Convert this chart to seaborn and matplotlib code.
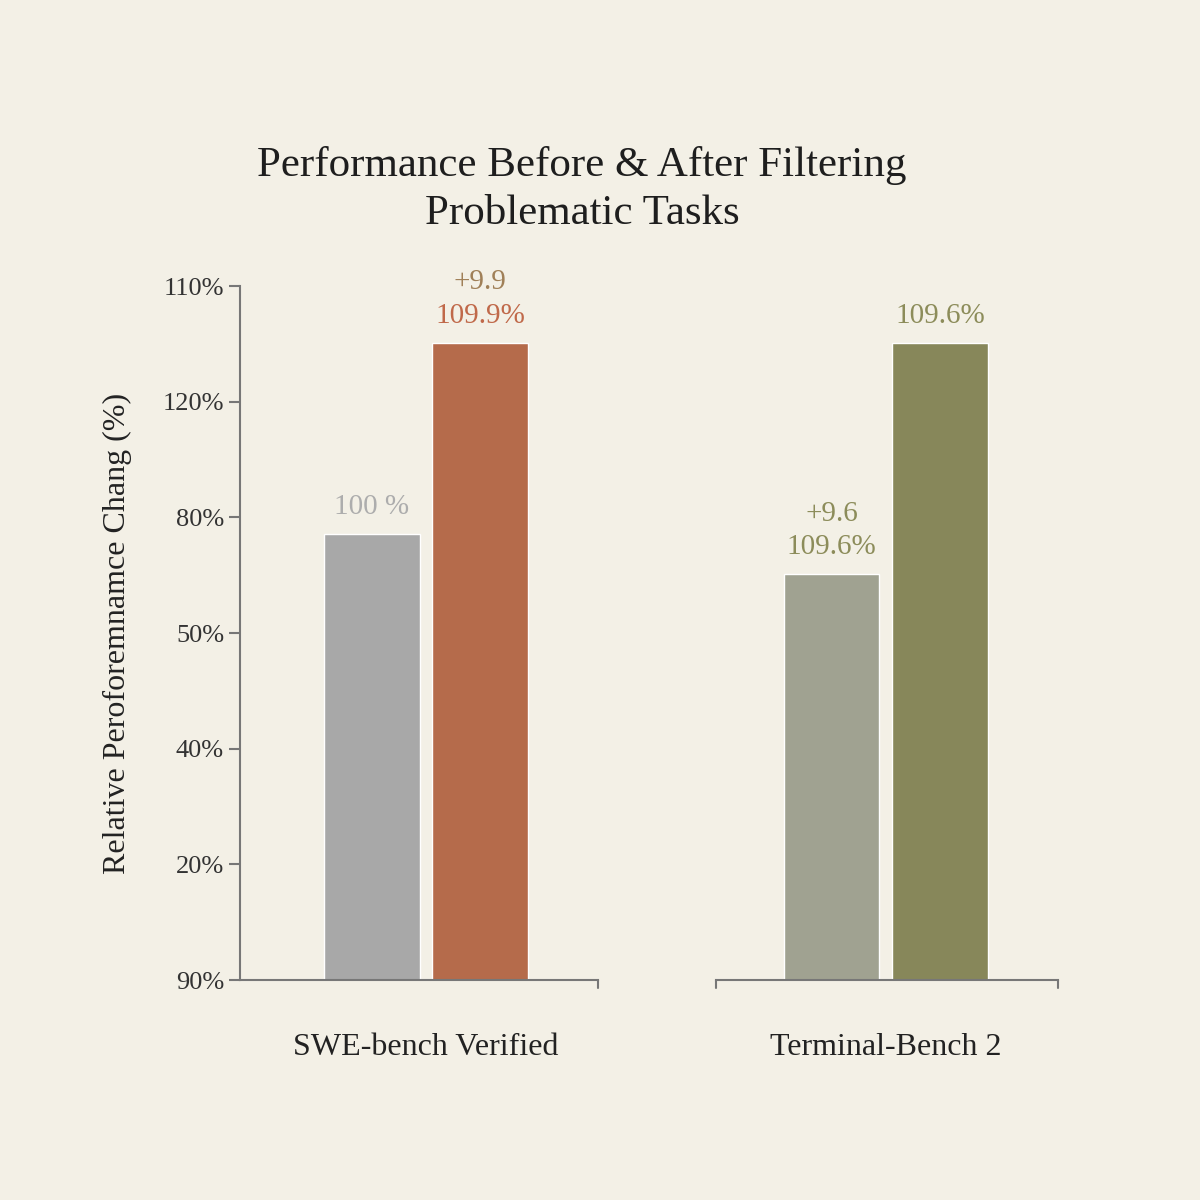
import matplotlib
matplotlib.use("Agg")
import matplotlib.pyplot as plt
import seaborn as sns

# data (bar heights in axis units; axis ticks are evenly spaced with odd labels)
benchmarks = ["SWE-bench Verified", "Terminal-Bench 2"]
before = [3.86, 3.51]
after = [5.51, 5.51]
tick_labels = ["90%", "20%", "40%", "50%", "80%", "120%", "110%"]
# per benchmark: [before bar notes, after bar notes] as (small line, big line)
notes = [[(None, "100 %"), ("+9.9", "109.9%")],
         [("+9.6", "109.6%"), (None, "109.6%")]]

bg = "#f3f0e6"
bar_colors = [("#a8a8a8", "#b56b4b"), ("#a0a291", "#87875a")]
# per benchmark: [before (small, big), after (small, big)]
note_colors = [[("#adadad", "#adadad"), ("#a08058", "#c0694a")],
               [("#8c8c5a", "#8c8c5a"), ("#8c8c5a", "#8c8c5a")]]

sns.set_style("white")
plt.rcParams["font.family"] = ["Liberation Serif", "DejaVu Serif"]
fig = plt.figure(figsize=(12, 12), dpi=100, facecolor=bg)

boxes = [[0.200, 0.1833, 0.2983, 0.5783], [0.5967, 0.1833, 0.285, 0.5783]]
xlims = [(-1.22, 2.09), (-1.06, 2.08)]
axc = "#777777"
for i, name in enumerate(benchmarks):
    ax = fig.add_axes(boxes[i])
    ax.set_facecolor(bg)
    sns.barplot(x=[0, 1], y=[before[i], after[i]], hue=[0, 1],
                palette=list(bar_colors[i]), legend=False,
                width=0.88, ax=ax, native_scale=True, saturation=1)
    ax.set_xlim(*xlims[i])
    ax.set_ylim(0, 6)
    ax.set_xticks([0.5])
    ax.set_xticklabels([name], fontsize=23, color="#222222")
    ax.tick_params(axis="x", length=8, color=axc, width=1.5, pad=30)
    for s in ["top", "right"]:
        ax.spines[s].set_visible(False)
    ax.spines["bottom"].set_color(axc)
    ax.spines["bottom"].set_linewidth(1.5)
    ax.set_xlabel("")
    if i == 0:
        ax.set_yticks(range(7))
        ax.set_yticklabels(tick_labels, fontsize=19, color="#333333")
        ax.tick_params(axis="y", length=8, color=axc, width=1.5, left=True)
        ax.spines["left"].set_color(axc)
        ax.spines["left"].set_linewidth(1.5)
        ax.set_ylabel("Relative Peroforemnamce Chang (%)", fontsize=23,
                      color="#222222", labelpad=22)
    else:
        ax.spines["left"].set_visible(False)
        ax.set_yticks([])
        ax.set_ylabel("")
    for xi, h in enumerate([before[i], after[i]]):
        small, big = notes[i][xi]
        c_small, c_big = note_colors[i][xi]
        ax.text(xi, h + 0.12, big, ha="center", va="bottom", fontsize=21, color=c_big)
        if small:
            ax.text(xi, h + 0.41, small, ha="center", va="bottom", fontsize=21, color=c_small)

# small end ticks on the baselines
for xe in [0.4983, 0.5967, 0.8817]:
    fig.add_artist(plt.Line2D([xe, xe], [0.1833, 0.1767], color=axc, lw=1.5))

fig.text(0.485, 0.842, "Performance Before & After Filtering\nProblematic Tasks",
         ha="center", va="center", fontsize=31, color="#1e1e1e", linespacing=1.3)

fig.savefig("out.png", dpi=100, facecolor=bg)
